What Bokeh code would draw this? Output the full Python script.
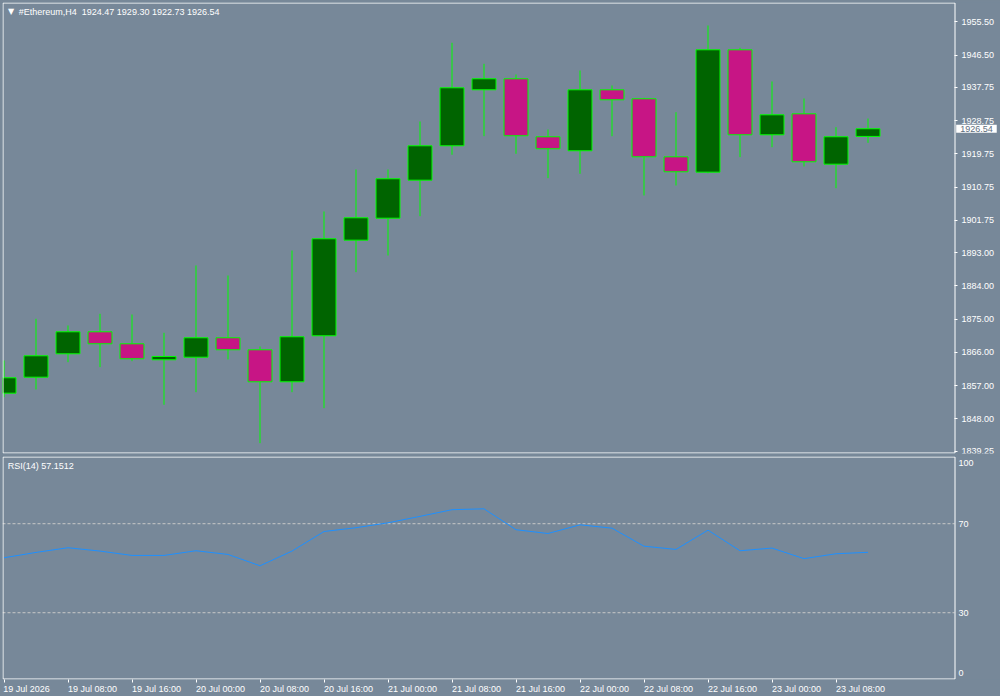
from bokeh.plotting import figure
from bokeh.layouts import column
from bokeh.models import (FixedTicker, Label, NumeralTickFormatter, Range1d,
                          ColumnDataSource, LinearAxis, BoxAnnotation)
from bokeh.embed import file_html
from bokeh.resources import INLINE

# ---------------- data ----------------
symbol = "#Ethereum,H4"
time_labels = ["19 Jul 2026", "19 Jul 08:00", "19 Jul 16:00", "20 Jul 00:00",
               "20 Jul 08:00", "20 Jul 16:00", "21 Jul 00:00", "21 Jul 08:00",
               "21 Jul 16:00", "22 Jul 00:00", "22 Jul 08:00", "22 Jul 16:00",
               "23 Jul 00:00", "23 Jul 08:00"]
opens = [1854.96, 1859.29, 1865.62, 1871.58, 1868.33, 1864.00, 1864.70, 1869.96,
         1866.71, 1858.04, 1870.50, 1896.38, 1902.33, 1912.62, 1921.93, 1937.09,
         1940.07, 1924.37, 1920.58, 1937.09, 1934.66, 1918.95, 1914.79, 1947.92,
         1924.91, 1930.59, 1916.95, 1924.47]
highs = [1863.81, 1875.10, 1873.29, 1876.45, 1876.26, 1871.31, 1889.53, 1886.82,
         1867.60, 1893.59, 1904.15, 1915.52, 1915.52, 1928.51, 1949.82, 1944.13,
         1941.23, 1926.34, 1942.32, 1938.26, 1934.90, 1931.03, 1954.50, 1948.46,
         1939.34, 1934.74, 1926.97, 1929.30]
lows = [1853.88, 1855.96, 1863.35, 1862.00, 1863.62, 1851.82, 1855.23, 1864.08,
        1841.42, 1855.23, 1850.90, 1887.72, 1892.23, 1902.87, 1919.50, 1924.53,
        1919.77, 1913.16, 1914.35, 1924.53, 1908.48, 1911.18, 1914.50, 1918.85,
        1921.55, 1916.33, 1910.45, 1922.73]
closes = [1859.13, 1865.08, 1871.58, 1868.33, 1864.27, 1864.90, 1869.96, 1866.71,
          1858.04, 1870.23, 1896.76, 1902.44, 1913.00, 1921.93, 1937.63, 1940.07,
          1924.64, 1921.12, 1937.09, 1934.38, 1918.95, 1914.89, 1947.92, 1924.91,
          1930.32, 1917.60, 1924.37, 1926.54]
rsi = [54.7, 57.1, 59.2, 57.7, 55.75, 55.75, 57.85, 56.2, 51.1, 57.7, 66.5, 68.2,
       70.4, 73.3, 76.3, 76.7, 67.3, 65.6, 69.5, 68.0, 59.9, 58.45, 67.1, 57.85,
       59.05, 54.3, 56.5, 57.1512]
rsi_period = 14
rsi_levels = [30, 70]
rsi_tick_labels = ["0", "30", "70", "100"]
price_ticks = [1839.25, 1848.00, 1857.00, 1866.00, 1875.00, 1884.00, 1893.00,
               1901.75, 1910.75, 1919.75, 1928.75, 1937.75, 1946.50, 1955.50]

# ---------------- style ----------------
BG = "#778899"
BULL = "#006400"
BEAR = "#C71585"
EDGE = "#00FF00"
FONT = "Liberation Sans"
FS = "9px"
PX = 32.0        # pixels per bar
CHART_W = 952    # width of the bordered chart area
FRAME_W = 998    # frame also holds the price scale on its right

n = len(opens)
idx = list(range(n))
src = ColumnDataSource(dict(
    x=idx, high=highs, low=lows,
    top=[max(o, c) for o, c in zip(opens, closes)],
    bottom=[min(o, c) for o, c in zip(opens, closes)],
    color=[BULL if c >= o else BEAR for o, c in zip(opens, closes)],
))

x0 = -0.047
x_edge = x0 + CHART_W / PX
xr = Range1d(x0, x0 + FRAME_W / PX)


def border(h):
    return BoxAnnotation(left=0.5, right=CHART_W + 0.5, bottom=0.5, top=h - 0.5,
                         left_units="screen", right_units="screen",
                         bottom_units="screen", top_units="screen",
                         fill_alpha=0, line_color="white", line_alpha=1.0, line_width=1)


def style_axis(a, tick_out, standoff):
    a.axis_line_color = None
    a.major_tick_line_color = "white" if tick_out else None
    a.major_tick_out = tick_out
    a.major_tick_in = 0
    a.minor_tick_line_color = None
    a.major_label_standoff = standoff
    a.major_label_text_color = "white"
    a.major_label_text_font = FONT
    a.major_label_text_font_size = FS


# ---------------- price panel ----------------
MAIN_H = 451
p = figure(frame_width=FRAME_W, frame_height=MAIN_H, min_border_left=2, min_border_top=2,
           min_border_bottom=2, min_border_right=0,
           x_range=xr, y_range=Range1d(1838.63, 1960.72),
           x_axis_location=None, y_axis_location=None,
           output_backend="svg", toolbar_location=None,
           background_fill_color=BG, border_fill_color=BG, outline_line_color=None)
p.grid.visible = False
p.segment(x0="x", y0="low", x1="x", y1="high", source=src, line_color=EDGE, line_width=1)
p.vbar(x="x", width=0.75, top="top", bottom="bottom", fill_color="color",
       line_color=EDGE, line_width=1, source=src)

ya = LinearAxis(ticker=FixedTicker(ticks=price_ticks),
                formatter=NumeralTickFormatter(format="0.00"), fixed_location=x_edge)
style_axis(ya, 3, 4)
p.add_layout(ya, "right")
p.add_layout(border(MAIN_H))

title_txt = "%s\u00a0\u00a0%.2f %.2f %.2f %.2f" % (symbol, opens[-1], highs[-1], lows[-1], closes[-1])
p.add_layout(Label(x=5.5, y=MAIN_H - 9, x_units="screen", y_units="screen", text="\u25bc",
                   text_color="white", text_font="DejaVu Sans", text_font_size="8px",
                   text_baseline="middle", text_align="left"))
p.add_layout(Label(x=16.3, y=MAIN_H - 9, x_units="screen", y_units="screen", text=title_txt,
                   text_color="white", text_font=FONT, text_font_size=FS,
                   text_baseline="middle", text_align="left"))
# current price marker on the price scale
p.add_layout(Label(x=CHART_W + 1.7, y=closes[-1], x_units="screen", text="%.2f" % closes[-1],
                   text_color="#5E6E7E", text_font=FONT, text_font_size=FS,
                   text_baseline="middle", text_align="left",
                   background_fill_color="white", padding=(4, 1)))

# ---------------- RSI panel ----------------
RSI_H = 223
r = figure(frame_width=FRAME_W, frame_height=RSI_H, min_border_left=2, min_border_top=1,
           min_border_right=0, min_border_bottom=2,
           x_range=xr, y_range=Range1d(0, 100.2), y_axis_location=None,
           output_backend="svg", toolbar_location=None,
           background_fill_color=BG, border_fill_color=BG, outline_line_color=None)
r.grid.visible = False
r.segment(x0=[x0] * len(rsi_levels), x1=[x_edge] * len(rsi_levels),
          y0=rsi_levels, y1=rsi_levels, line_color="#C8C8C8", line_width=1, line_dash="3 2")
r.line(idx, rsi, line_color="#1E90FF", line_width=1)

rsi_pos = [3.1, 30, 70, 97.4]
ra = LinearAxis(ticker=FixedTicker(ticks=rsi_pos), fixed_location=x_edge,
                major_label_overrides={pos: lab for pos, lab in zip(rsi_pos, rsi_tick_labels)})
style_axis(ra, 0, 4)
r.add_layout(ra, "right")
r.add_layout(border(RSI_H))

# time axis: tick marks at the bar positions, labels left-aligned on their tick
tick_idx = list(range(0, 2 * len(time_labels), 2))
xa = r.xaxis[0]
xa.ticker = FixedTicker(ticks=tick_idx)
xa.major_label_overrides = {i: "" for i in tick_idx}
style_axis(xa, 3, 0)
xa.major_label_text_font_size = "0px"

lab_pos = [t + len(lab) * 4.08 / 2 / PX for t, lab in zip(tick_idx, time_labels)]
xl = LinearAxis(ticker=FixedTicker(ticks=lab_pos),
                major_label_overrides={pos: lab for pos, lab in zip(lab_pos, time_labels)})
style_axis(xl, 0, 1)
r.add_layout(xl, "below")

r.add_layout(Label(x=5.3, y=RSI_H - 9, x_units="screen", y_units="screen",
                   text="RSI(%d) %.4f" % (rsi_period, rsi[-1]),
                   text_color="white", text_font=FONT, text_font_size=FS,
                   text_baseline="middle", text_align="left"))

layout = column(p, r, spacing=0, styles={"background-color": BG})
open("out.html", "w").write(file_html(layout, INLINE))
